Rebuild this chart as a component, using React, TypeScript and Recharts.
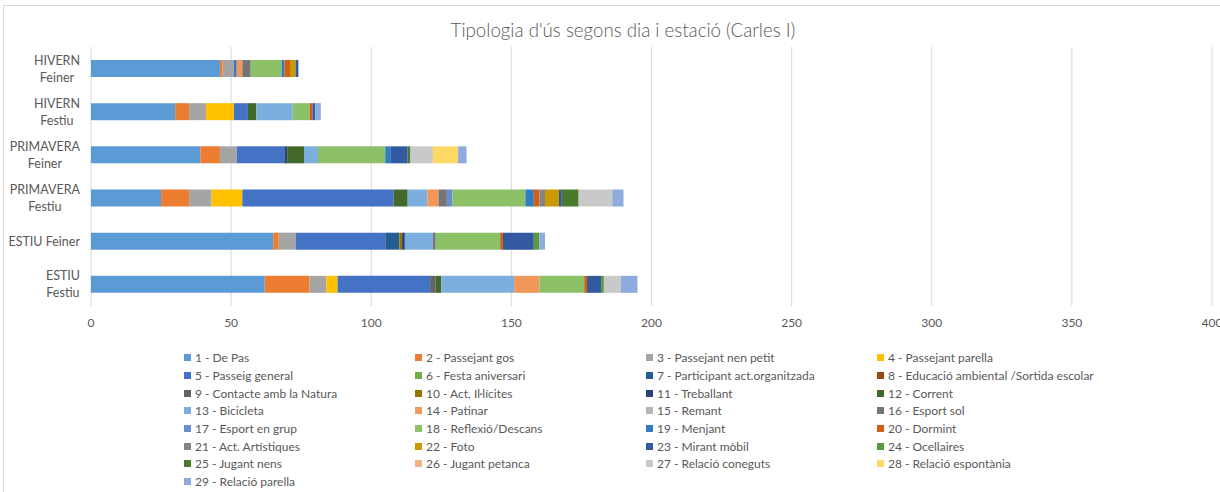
import React from 'react';
import { BarChart, Bar, XAxis, YAxis, CartesianGrid, Legend } from 'recharts';

const categories = [
  'HIVERN\nFeiner',
  'HIVERN\nFestiu',
  'PRIMAVERA\nFeiner',
  'PRIMAVERA\nFestiu',
  'ESTIU Feiner',
  'ESTIU\nFestiu',
];

const seriesNames = [
  '1 - De Pas', '2 - Passejant gos', '3 - Passejant nen petit', '4 - Passejant parella',
  '5 - Passeig general', '6 - Festa aniversari', '7 - Participant act.organitzada', '8 - Educació ambiental /Sortida escolar',
  '9 - Contacte amb la Natura', '10 - Act, Il·lícites', '11 - Treballant', '12 - Corrent',
  '13 - Bicicleta', '14 - Patinar', '15 - Remant', '16 - Esport sol',
  '17 - Esport en grup', '18 - Reflexió/Descans', '19 - Menjant', '20 - Dormint',
  '21 - Act. Artístiques', '22 - Foto', '23 - Mirant mòbil', '24 - Ocellaires',
  '25 - Jugant nens', '26 - Jugant petanca', '27 - Relació coneguts', '28 - Relació espontània',
  '29 - Relació parella',
];

const seriesColors = [
  '#5B9BD5', '#ED7D31', '#A5A5A5', '#FFC000', '#4472C4', '#70AD47', '#255E91', '#9E480E',
  '#636363', '#997300', '#264478', '#43682B', '#7CAFDD', '#F1975A', '#B7B7B7', '#757575',
  '#698ED0', '#8CC168', '#327DC2', '#D26012', '#848484', '#CC9A00', '#335AA1', '#5A9A3C',
  '#4A7A2C', '#F4B183', '#C9C9C9', '#FFD966', '#8FAADC',
];

// values per category, series 1..29
const hivernFeiner = [46, 1, 4, 0, 1, 0, 0, 0, 0, 0, 0, 0, 0, 2, 0, 3, 0, 11, 1, 2, 0, 2, 1, 0, 0, 0, 0, 0, 0];
const hivernFestiu = [30, 5, 6, 10, 5, 0, 0, 0, 0, 0, 0, 3, 13, 0, 0, 0, 0, 6, 0, 1, 0, 0, 1, 0, 0, 0, 0, 0, 2];
const primaveraFeiner = [39, 7, 6, 0, 17, 0, 0, 0, 0, 0, 1, 6, 5, 0, 0, 0, 0, 24, 2, 0, 0, 0, 6, 0, 1, 0, 8, 9, 3];
const primaveraFestiu = [25, 10, 8, 11, 54, 0, 0, 0, 0, 0, 0, 5, 7, 4, 0, 3, 2, 26, 3, 2, 2, 5, 1, 0, 6, 0, 12, 0, 4];
const estiuFeiner = [65, 2, 6, 0, 32, 0, 5, 0, 0, 1, 1, 0, 10, 0, 0, 1, 0, 23, 0, 1, 0, 0, 11, 2, 0, 0, 0, 0, 2];
const estiuFestiu = [62, 16, 6, 4, 33, 0, 0, 0, 2, 0, 0, 2, 26, 9, 0, 0, 0, 16, 0, 1, 0, 0, 5, 1, 0, 0, 6, 0, 6];

const xTicks = [0, 50, 100, 150, 200, 250, 300, 350, 400];

const rows = [hivernFeiner, hivernFestiu, primaveraFeiner, primaveraFestiu, estiuFeiner, estiuFestiu];
const data = categories.map((c, ci) => {
  const o: any = { name: c };
  seriesNames.forEach((_, si) => { o['s' + si] = rows[ci][si]; });
  return o;
});

const FONT = "Lato, 'Liberation Sans', sans-serif";

let ctx: CanvasRenderingContext2D | null = null;
function measure(t: string, size: number) {
  if (!ctx) {
    const c = document.createElement('canvas');
    ctx = c.getContext('2d');
  }
  if (!ctx) return t.length * size * 0.45;
  ctx.font = `${size}px ${FONT}`;
  return ctx.measureText(t).width;
}

const YTick = (props: any) => {
  const { x, y, payload } = props;
  const lines = String(payload.value).split('\n');
  const size = 12.5;
  const lineH = 17;
  const blockW = Math.max(...lines.map((l) => measure(l, size)));
  const right = x - 3;
  const cx = right - blockW / 2;
  const y0 = y - ((lines.length - 1) * lineH) / 2;
  return (
    <g>
      {lines.map((l, i) => (
        <text key={i} x={cx} y={y0 + i * lineH} textAnchor="middle" dominantBaseline="central"
          fontSize={size} fill="#595959" fontFamily={FONT}>{l}</text>
      ))}
    </g>
  );
};

const renderLegend = () => (
  <div style={{ display: 'grid', gridTemplateColumns: 'repeat(4, 231px)', fontFamily: FONT }}>
    {seriesNames.map((n, i) => (
      <div key={n} style={{ display: 'flex', alignItems: 'center', height: 17.7, fontSize: 12, color: '#595959', whiteSpace: 'nowrap' }}>
        <span style={{ display: 'inline-block', width: 7, height: 7, background: seriesColors[i], marginRight: 4 }} />
        {n}
      </div>
    ))}
  </div>
);

export default function App() {
  return (
    <div style={{ position: 'fixed', left: 0, top: 0, width: 1220, height: 492, overflow: 'hidden', background: '#fff' }}>
      <div style={{ position: 'absolute', left: 3, top: 5, width: 1300, height: 600, border: '1px solid #d9d9d9' }} />
      <div style={{ position: 'absolute', left: 0, top: 19, width: 1246, textAlign: 'center', fontFamily: FONT, fontSize: 18.7, fontWeight: 300, color: '#595959', lineHeight: '22px' }}>
        Tipologia d'ús segons dia i estació (Carles I)
      </div>
      <div style={{ position: 'absolute', left: 0, top: 0 }}>
        <BarChart width={1220} height={492} data={data} layout="vertical"
          margin={{ top: 47, right: 8, bottom: 156, left: 0 }} barSize={17}>
          <CartesianGrid horizontal={false} stroke="#d9d9d9" />
          <XAxis type="number" domain={[0, 400]} ticks={xTicks} axisLine={false} tickLine={false}
            tickMargin={6} tick={{ fill: '#595959', fontSize: 12, fontFamily: FONT }} interval={0} />
          <YAxis type="category" dataKey="name" width={91} axisLine={false} tickLine={false} tick={<YTick />} interval={0} />
          <Legend layout="horizontal" verticalAlign="middle" content={renderLegend}
            wrapperStyle={{ left: 184, top: 349, width: 960 }} />
          {seriesNames.map((n, i) => (
            <Bar key={n} dataKey={'s' + i} name={n} stackId="a" fill={seriesColors[i]} isAnimationActive={false} />
          ))}
        </BarChart>
      </div>
    </div>
  );
}
